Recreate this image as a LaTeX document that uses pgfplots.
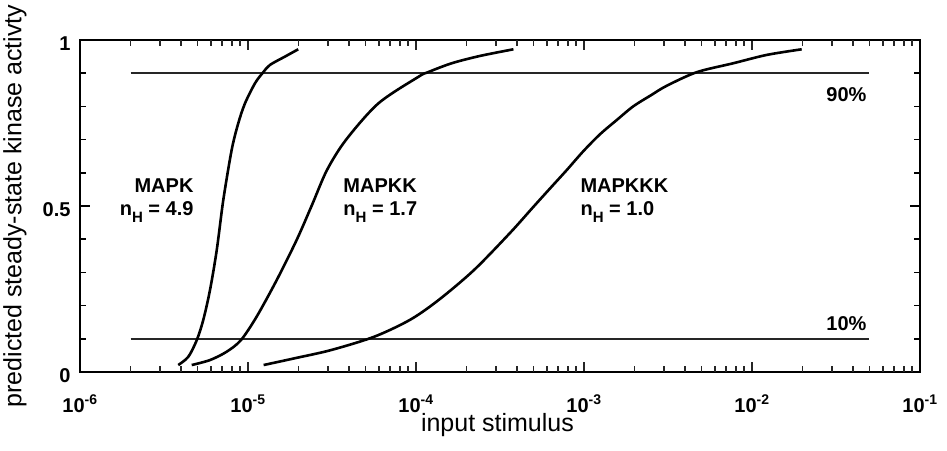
\documentclass[border=0pt]{standalone}
\usepackage{pgfplots}
\pgfplotsset{compat=1.18}
\usepackage{fontspec}
\setmainfont{Liberation Sans}

\newcommand{\annot}{\fontsize{20}{24}\selectfont\bfseries}
\newcommand{\nH}{n\raisebox{-0.32em}{\fontsize{15}{15}\selectfont H}}

\pgfplotsset{
  frame/.style={
    at={(0,0)}, anchor=south west,
    scale only axis, width=840pt, height=332pt,
    tick align=inside,
    xtick style={black!85, line width=1.8pt},
    ytick style={black, line width=1.5pt},
  },
}

\begin{document}
\begin{tikzpicture}
\path[use as bounding box] (-80pt,-78pt) rectangle (867pt,372pt);
\begin{axis}[
  frame,
  xmode=log, log basis x=10,
  xmin=1e-6, xmax=1e-1, ymin=0, ymax=1,
  xtick={1e-6,1e-5,1e-4,1e-3,1e-2,1e-1},
  xticklabels={10\textsuperscript{-6},10\textsuperscript{-5},10\textsuperscript{-4},
               10\textsuperscript{-3},10\textsuperscript{-2},10\textsuperscript{-1}},
  ytick={0,0.5,1}, yticklabels={0,0.5,1},
  minor ytick={0.1,0.2,0.3,0.4,0.6,0.7,0.8,0.9},
  major tick length=10pt, minor tick length=6pt,
  axis line style={line width=2pt},
  tick label style={font=\fontsize{20}{24}\selectfont\bfseries},
  xticklabel style={anchor=base, yshift=-40pt},
  yticklabel style={xshift=-6pt, yshift=-4pt},
  /pgf/number format/assume math mode=true,
  xlabel={input stimulus},
  ylabel={predicted steady-state kinase activty},
  every axis x label/.style={at={(rel axis cs:0.497,0)}, yshift=-53pt, anchor=center,
    font=\fontsize{25}{30}\selectfont},
  every axis y label/.style={at={(rel axis cs:0,0.5)}, xshift=-65pt, rotate=90, anchor=center,
    font=\fontsize{25}{30}\selectfont},
  clip=false,
]

% 90% and 10% reference levels
\addplot[black!85, line width=1.7pt] coordinates {(2e-6,0.9) (5e-2,0.9)};
\addplot[black!85, line width=1.7pt] coordinates {(2e-6,0.1) (5e-2,0.1)};

% MAPK, nH = 4.9
\addplot[black, line width=2.6pt, smooth, tension=0.5] coordinates {
  (3.846e-6,0.021) (4.416e-6,0.046) (4.955e-6,0.096) (5.420e-6,0.157)
  (5.943e-6,0.247) (6.516e-6,0.367) (7.129e-6,0.518) (7.998e-6,0.669)
  (8.750e-6,0.749) (9.594e-6,0.809) (1.102e-5,0.870) (1.233e-5,0.903)
  (1.352e-5,0.925) (1.660e-5,0.950) (1.991e-5,0.972)
};

% MAPKK, nH = 1.7
\addplot[black, line width=2.6pt, smooth, tension=0.5] coordinates {
  (4.624e-6,0.021) (5.943e-6,0.036) (7.464e-6,0.061) (9.078e-6,0.096)
  (1.127e-5,0.167) (1.483e-5,0.277) (1.950e-5,0.398) (2.404e-5,0.503)
  (2.951e-5,0.608) (3.828e-5,0.699) (5.970e-5,0.809) (1.033e-4,0.889)
  (1.178e-4,0.903) (1.633e-4,0.930) (2.404e-4,0.952) (3.802e-4,0.972)
};

% MAPKKK, nH = 1.0
\addplot[black, line width=2.6pt, smooth, tension=0.5] coordinates {
  (1.239e-5,0.021) (1.923e-5,0.042) (3.119e-5,0.066) (5.623e-5,0.106)
  (9.204e-5,0.157) (1.365e-4,0.217) (2.213e-4,0.307) (3.631e-4,0.419)
  (4.989e-4,0.497) (6.281e-4,0.553) (7.889e-4,0.608) (9.908e-4,0.665)
  (1.245e-3,0.716) (1.567e-3,0.759) (1.963e-3,0.800) (2.512e-3,0.834)
  (3.105e-3,0.862) (4.688e-3,0.903) (7.745e-3,0.930) (1.222e-2,0.955)
  (1.977e-2,0.972)
};

% curve annotations
\node[anchor=base east, font=\annot] at (rel axis cs:0.1393,0.542) {MAPK};
\node[anchor=base east, font=\annot] at (rel axis cs:0.1393,0.470) {\nH{} = 4.9};
\node[anchor=base west, font=\annot] at (rel axis cs:0.3095,0.542) {MAPKK};
\node[anchor=base west, font=\annot] at (rel axis cs:0.3095,0.470) {\nH{} = 1.7};
\node[anchor=base west, font=\annot] at (rel axis cs:0.5917,0.542) {MAPKKK};
\node[anchor=base west, font=\annot] at (rel axis cs:0.5917,0.470) {\nH{} = 1.0};
\node[anchor=base east, font=\annot] at (rel axis cs:0.9405,0.816) {90\%};
\node[anchor=base east, font=\annot] at (rel axis cs:0.9405,0.1265) {10\%};
\end{axis}

% intermediate logarithmic tick marks (2..9 of each decade), on a decade scale
\begin{axis}[
  frame,
  xmin=-6, xmax=-1, ymin=0, ymax=1,
  axis line style={draw=none},
  ytick=\empty,
  xtick={-5.69897,-5.52288,-5.39794,-5.30103,-5.22185,-5.15490,-5.09691,-5.04576,
         -4.69897,-4.52288,-4.39794,-4.30103,-4.22185,-4.15490,-4.09691,-4.04576,
         -3.69897,-3.52288,-3.39794,-3.30103,-3.22185,-3.15490,-3.09691,-3.04576,
         -2.69897,-2.52288,-2.39794,-2.30103,-2.22185,-2.15490,-2.09691,-2.04576,
         -1.69897,-1.52288,-1.39794,-1.30103,-1.22185,-1.15490,-1.09691,-1.04576},
  xticklabels={},
  major tick length=6pt,
]
\end{axis}
\end{tikzpicture}
\end{document}
